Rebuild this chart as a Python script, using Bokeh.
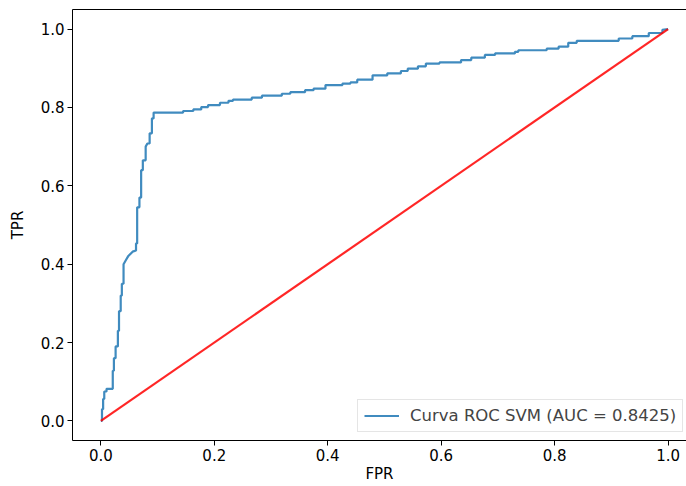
from bokeh.plotting import figure
from bokeh.models import Legend, LegendItem, LinearAxis, FixedTicker, Range1d, CustomJSTickFormatter
from bokeh.embed import file_html
from bokeh.resources import INLINE

# ROC curve corners
fpr = [0.000, 0.002, 0.002, 0.004, 0.004, 0.006, 0.006, 0.010, 0.010, 0.021,
       0.021, 0.023, 0.023, 0.026, 0.026, 0.030, 0.030, 0.032, 0.032, 0.035,
       0.035, 0.037, 0.037, 0.040, 0.040, 0.044, 0.048, 0.056, 0.062, 0.062,
       0.064, 0.064, 0.068, 0.068, 0.071, 0.071, 0.074, 0.074, 0.079, 0.079,
       0.082, 0.086, 0.086, 0.090, 0.090, 0.093, 0.093, 0.145, 0.145, 0.163,
       0.163, 0.177, 0.177, 0.189, 0.189, 0.210, 0.210, 0.225, 0.225, 0.233,
       0.233, 0.266, 0.266, 0.284, 0.284, 0.319, 0.319, 0.334, 0.334, 0.360,
       0.360, 0.375, 0.375, 0.396, 0.396, 0.426, 0.426, 0.440, 0.440, 0.452,
       0.452, 0.479, 0.479, 0.505, 0.505, 0.529, 0.529, 0.541, 0.541, 0.559,
       0.559, 0.573, 0.573, 0.597, 0.597, 0.635, 0.635, 0.653, 0.653, 0.677,
       0.677, 0.695, 0.695, 0.730, 0.730, 0.736, 0.736, 0.786, 0.786, 0.807,
       0.807, 0.824, 0.824, 0.839, 0.839, 0.913, 0.913, 0.937, 0.937, 0.966,
       0.966, 0.990, 0.990, 1.000]
tpr = [0.000, 0.000, 0.030, 0.030, 0.056, 0.056, 0.075, 0.075, 0.082, 0.082,
       0.128, 0.128, 0.160, 0.160, 0.190, 0.190, 0.230, 0.230, 0.280, 0.280,
       0.320, 0.320, 0.350, 0.350, 0.400, 0.410, 0.420, 0.432, 0.435, 0.453,
       0.453, 0.545, 0.545, 0.570, 0.570, 0.640, 0.640, 0.665, 0.665, 0.700,
       0.708, 0.708, 0.734, 0.734, 0.772, 0.772, 0.787, 0.787, 0.791, 0.791,
       0.795, 0.795, 0.801, 0.801, 0.806, 0.806, 0.812, 0.812, 0.817, 0.817,
       0.820, 0.820, 0.825, 0.825, 0.830, 0.830, 0.835, 0.835, 0.839, 0.839,
       0.844, 0.844, 0.848, 0.848, 0.857, 0.857, 0.861, 0.861, 0.864, 0.864,
       0.871, 0.871, 0.882, 0.882, 0.887, 0.887, 0.893, 0.893, 0.899, 0.899,
       0.905, 0.905, 0.912, 0.912, 0.915, 0.915, 0.921, 0.921, 0.927, 0.927,
       0.934, 0.934, 0.938, 0.938, 0.942, 0.942, 0.946, 0.946, 0.950, 0.950,
       0.955, 0.955, 0.965, 0.965, 0.970, 0.970, 0.976, 0.976, 0.982, 0.982,
       0.990, 0.990, 0.998, 1.000]

diag_x = [0.0, 1.0]
diag_y = [0.0, 1.0]

ticks = [0.0, 0.2, 0.4, 0.6, 0.8, 1.0]
legend_label = "Curva ROC SVM (AUC = 0.8425)"

FONT = "DejaVu Sans"

p = figure(width=686, height=486, output_backend="svg", toolbar_location=None,
           x_range=Range1d(-0.05, 1.0325), y_range=Range1d(-0.05, 1.05),
           min_border_left=72, min_border_right=0, min_border_top=9,
           min_border_bottom=46)
p.outline_line_color = None
p.xgrid.visible = False
p.ygrid.visible = False
p.background_fill_color = "white"
p.border_fill_color = "white"

roc = p.line(fpr, tpr, line_color="#1f77b4", line_alpha=0.85, line_width=2.2)
p.line(diag_x, diag_y, line_color="red", line_alpha=0.85, line_width=2.2)

fmt = CustomJSTickFormatter(code="return tick.toFixed(1);")
for ax in (p.xaxis[0], p.yaxis[0]):
    ax.ticker = FixedTicker(ticks=ticks)
    ax.formatter = fmt
    ax.minor_tick_line_color = None
    ax.major_tick_in = 0
    ax.major_tick_out = 5
    ax.major_label_standoff = 3
    ax.major_label_text_font = FONT
    ax.major_label_text_font_size = "15px"
    ax.major_label_text_color = "#000000"
    ax.axis_label_text_font = FONT
    ax.axis_label_text_font_size = "15px"
    ax.axis_label_text_font_style = "normal"
    ax.axis_label_text_color = "#000000"
    ax.axis_line_color = "#000000"
    ax.major_tick_line_color = "#000000"
    ax.axis_label_standoff = 1

p.yaxis[0].axis_label_standoff = 11
p.xaxis[0].axis_label = "FPR"
p.yaxis[0].axis_label = "TPR"

top = LinearAxis(ticker=FixedTicker(ticks=[]), major_tick_out=0, major_tick_in=0,
                 minor_tick_out=0, minor_tick_in=0, major_label_text_font_size="0px",
                 axis_line_color="#000000")
p.add_layout(top, "above")

legend = Legend(items=[LegendItem(label=legend_label, renderers=[roc])],
                location=(285, 8), padding=6, glyph_width=35, glyph_height=17,
                label_height=17, label_standoff=11, margin=0, spacing=0,
                label_text_font=FONT, label_text_font_size="16.5px",
                border_line_color="#cccccc", border_line_width=1,
                background_fill_alpha=0.8)
p.add_layout(legend)

open("out.html", "w").write(file_html(p, INLINE))
